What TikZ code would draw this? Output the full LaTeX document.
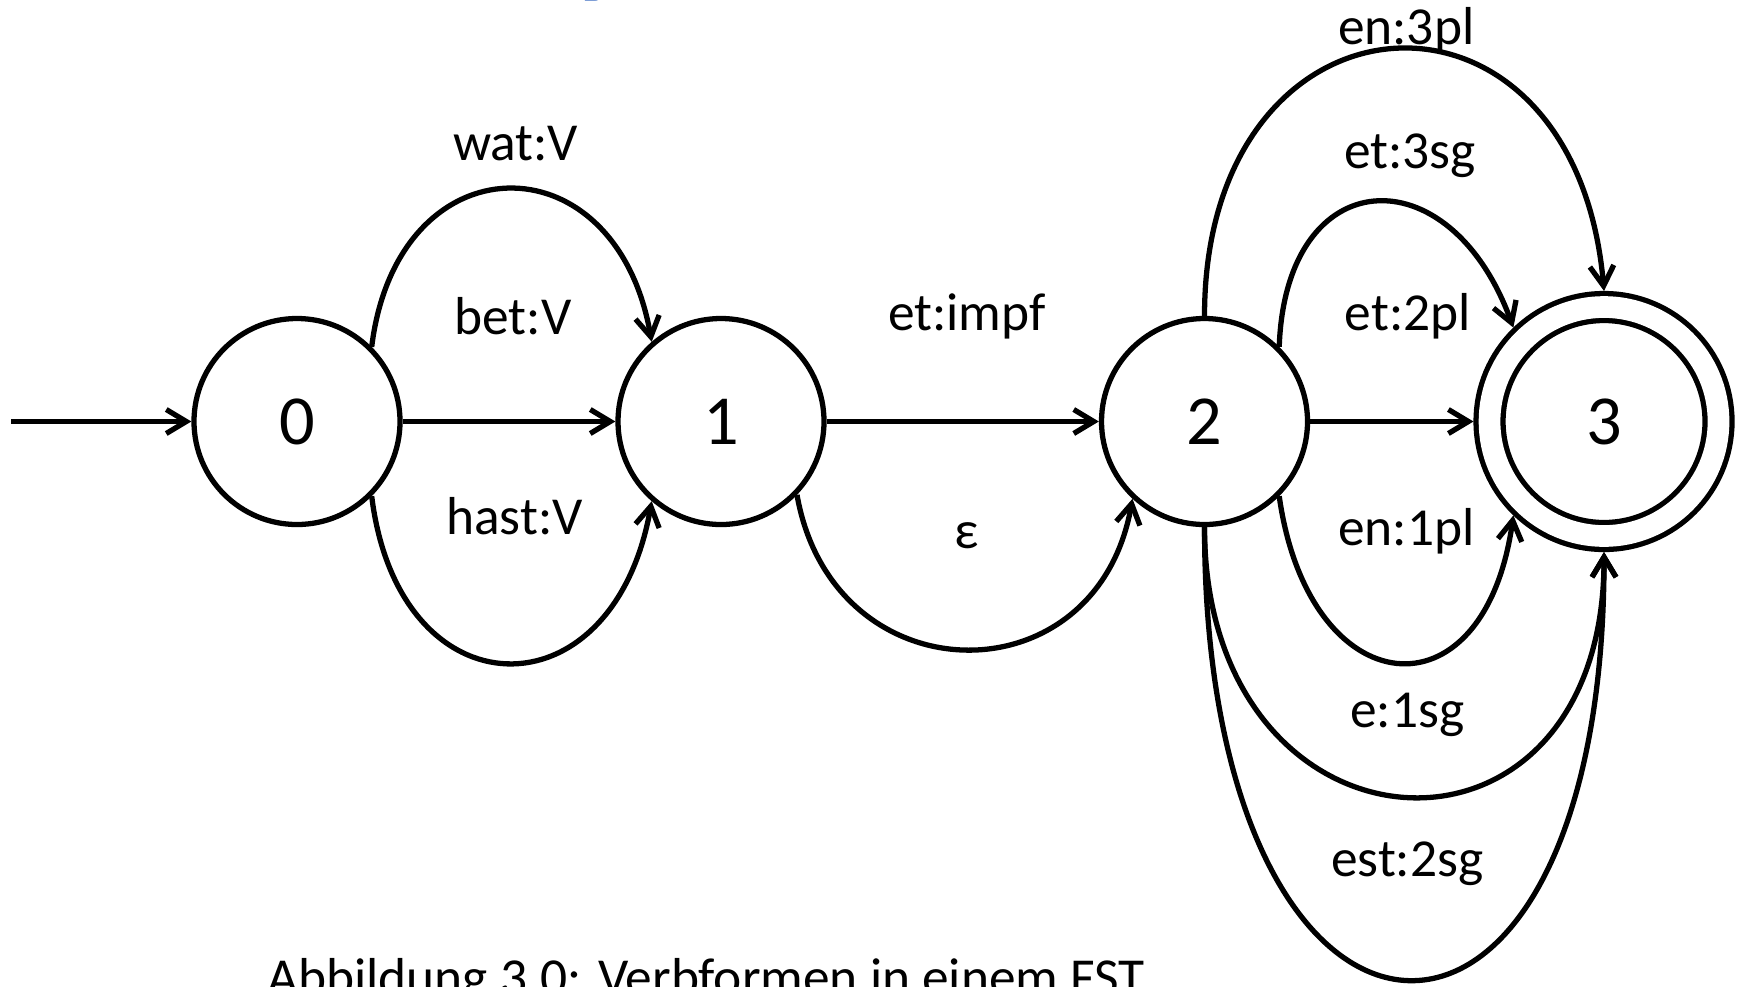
\documentclass[tikz,border=0pt]{standalone}
\usepackage{fontspec}
\setmainfont{Carlito}
\usetikzlibrary{arrows.meta}
\definecolor{titleblue}{RGB}{68,114,196}

\begin{document}
\begin{tikzpicture}[line width=1.5pt,
    >={Straight Barb[length=2mm,width=2.4mm]},
    zst/.style={draw, circle, minimum size=2.06cm, inner sep=0pt,
      font=\fontsize{20}{24}\selectfont},
    zend/.style={zst, minimum size=2.29cm, double, double distance=2.17mm,
      outer sep=1.6mm},
    lab/.style={font=\fontsize{15.2}{18}\selectfont},
    ttl/.style={text=titleblue, font=\bfseries\fontsize{32}{38}\selectfont}]

  \useasboundingbox (0,0) rectangle (17.39,9.86);

  \node[ttl, anchor=base west] (ttl) at (5.60,10.03) {y};

  \node[zst] (q0) at (2.97,5.645) {0};
  \node[zst] (q1) at (7.21,5.645) {1};
  \node[zst] (q2) at (12.045,5.645) {2};
  \node[zend] (q3) at (16.04,5.645) {3};
  \coordinate (start) at (0.11,5.645);

  \draw[->] (start) -- (q0);
  \draw[->] (q0) -- node[lab, xshift=0.4mm, yshift=10.5mm] (lbet) {bet:V} (q1);
  \draw[->] (q0.45) to[out=83, in=100, looseness=1.91]
    node[lab, xshift=0.8mm, yshift=4.5mm] (lwat) {wat:V} (q1.131);
  \draw[->] (q0.-45) to[out=-83, in=-100, looseness=2.02]
    node[lab, xshift=0.7mm, yshift=14.7mm] (lhast) {hast:V} (q1.-131);

  \draw[->] (q1) -- node[lab, xshift=0.4mm, yshift=10.5mm] (limpf) {et:impf} (q2);
  \draw[->] (q1.-44) to[out=-80, in=-100, looseness=1.57]
    node[lab, xshift=0.2mm, yshift=11.35mm] (leps) {ε} (q2.-133);

  \draw[->] (q2.90) to[out=90, in=95, looseness=2.17]
    node[lab, xshift=1.3mm, yshift=1.9mm] (lthreepl) {en:3pl} (q3.90);
  \draw[->] (q2.45) to[out=88, in=110, looseness=2.03]
    node[lab, xshift=3.5mm, yshift=4.6mm] (lthreesg) {et:3sg} (q3.134);
  \draw[->] (q2) -- node[lab, xshift=1.6mm, yshift=10.5mm] (ltwopl) {et:2pl} (q3);
  \draw[->] (q2.-45) to[out=-82, in=-98, looseness=2.3]
    node[lab, xshift=1mm, yshift=13.15mm] (lonepl) {en:1pl} (q3.-134);
  \draw[->] (q2.-90) to[out=-90, in=-90, looseness=2.19]
    node[lab, xshift=0.3mm, yshift=8.15mm] (lonesg) {e:1sg} (q3.-90);
  \draw[->] (q2.-90) to[out=-90, in=-90, looseness=3.75]
    node[lab, xshift=0.3mm, yshift=11.6mm] (ltwosg) {est:2sg} (q3.-90);

  \node[lab, anchor=base] (cap) at (7.06,-0.095)
    {Abbildung 3.0: Verbformen in einem FST};

\end{tikzpicture}
\end{document}
